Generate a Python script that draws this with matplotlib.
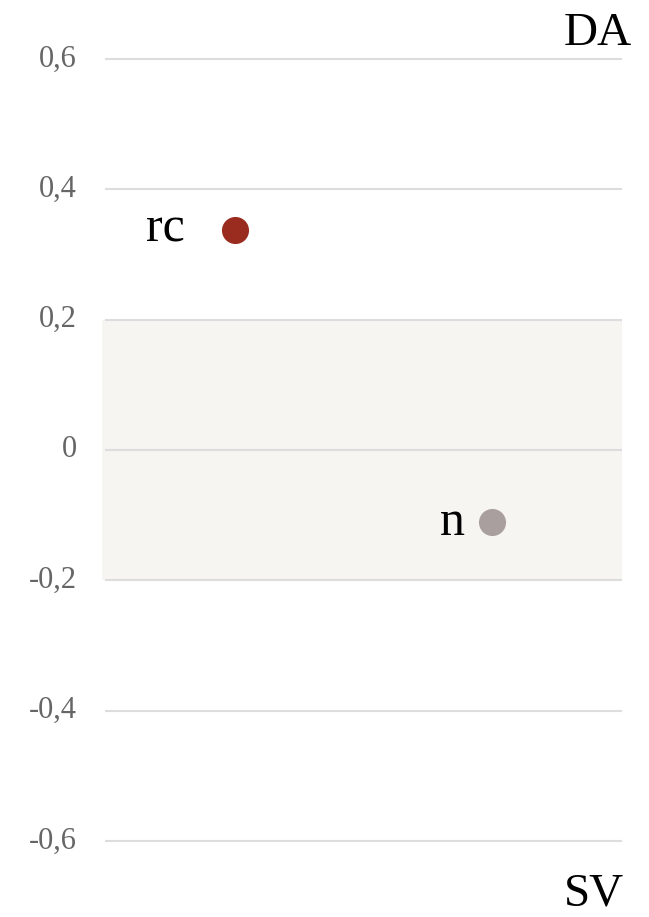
import matplotlib
matplotlib.use("Agg")
import matplotlib.pyplot as plt
from matplotlib.patches import Rectangle

# data
labels = ["rc", "n"]
x_pos = [0.25, 0.75]
y_vals = [0.338, -0.111]
colors = ["#992c1f", "#aa9f9f"]
label_offsets = [-50, -27]  # px, style
yticks = [-0.6, -0.4, -0.2, 0, 0.2, 0.4, 0.6]
ytick_labels = ["-0,6", "-0,4", "-0,2", "0", "0,2", "0,4", "0,6"]
band = (-0.2, 0.2)
top_label = "DA"
bottom_label = "SV"

W, H = 649, 917
fig = plt.figure(figsize=(W / 100, H / 100), dpi=100)
plt.rcParams['font.family'] = ['Liberation Serif', 'DejaVu Serif']

ax = fig.add_axes([106 / W, 1 - 841 / H, (621 - 106) / W, (841 - 59) / H])
ax.set_xlim(0, 1)
ax.set_ylim(-0.6, 0.6)
ax.axis('off')

# band
ax.add_patch(Rectangle((-4 / 515, band[0]), 1 + 5 / 515, band[1] - band[0],
                       facecolor="#f7f5f2", edgecolor="none", zorder=0, clip_on=False))

for yt, lab in zip(yticks, ytick_labels):
    ax.axhline(yt, color="#dddddd", lw=1.5, zorder=1, clip_on=False)
    ax.annotate(lab, xy=(0, yt), xycoords='data', xytext=(-29, 0), textcoords='offset pixels',
                ha='right', va='center', fontsize=22, color='#666666', annotation_clip=False)

for x, y, c, lab, off in zip(x_pos, y_vals, colors, labels, label_offsets):
    ax.plot([x], [y], 'o', ms=19.5, color=c, mec='none', zorder=3, clip_on=False)
    ax.annotate(lab, xy=(x, y), xytext=(off, 0), textcoords='offset pixels',
                ha='right', va='center', fontsize=36, color='black', annotation_clip=False)

fig.text(564 / W, 1 - 45 / H, top_label, ha='left', va='baseline', fontsize=34, color='black')
fig.text(564 / W, 1 - 906 / H, bottom_label, ha='left', va='baseline', fontsize=34, color='black')

fig.savefig("out.png", dpi=100)
